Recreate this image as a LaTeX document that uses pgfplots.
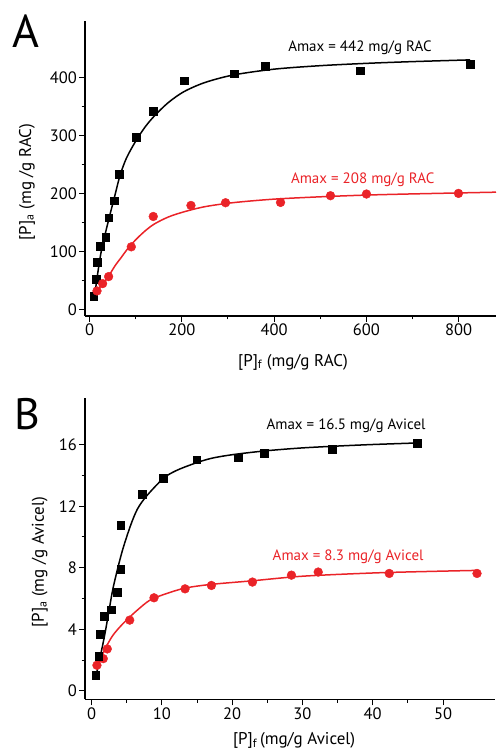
\documentclass[border=0pt]{standalone}
\usepackage{fontspec}
\setmainfont{PT Sans}
\usepackage{pgfplots}
\pgfplotsset{compat=1.18}
\definecolor{fitred}{RGB}{234,35,40}

\pgfplotsset{
  panel/.style={
    scale only axis,
    axis x line*=bottom, axis y line*=left,
    axis line style={line width=1.2pt,-},
    tick align=outside,
    major tick length=6pt, minor tick length=3.5pt,
    every tick/.style={black,line width=1pt},
    minor x tick num=1, minor y tick num=1,
    tick label style={font=\fontsize{16.5}{16.5}\selectfont, inner sep=2pt},
    label style={font=\fontsize{17}{19}\selectfont},
    /pgf/number format/assume math mode=true,
    /pgf/number format/1000 sep={},
    clip=false,
  },
  sq/.style={only marks, mark=square*, mark size=3.9pt, black},
  rc/.style={only marks, mark=*, mark size=4.4pt, fitred, mark options={fill=fitred,draw=fitred}},
  fitk/.style={no marks, smooth, black, line width=1.5pt},
  fitr/.style={no marks, smooth, fitred, line width=1.5pt},
}

\begin{document}
\begin{tikzpicture}
\path[use as bounding box] (0,0) rectangle (496pt,752pt);

% panel A
\begin{axis}[panel,
  at={(85pt,436pt)}, anchor=south west,
  width=411pt, height=295pt,
  xmin=-10, xmax=881, ymin=-10.4, ymax=498,
  xtick={0,200,400,600,800}, ytick={0,100,200,300,400},
  xlabel={[P]\textsubscript{f} (mg/g RAC)},
  ylabel={[P]\textsubscript{a} (mg /g RAC)},
  xlabel style={at={(axis description cs:0.506,-0.156)}, anchor=center},
  ylabel style={at={(axis description cs:-0.141,0.454)}, anchor=center},
]
\addplot[fitk] coordinates {(11,25) (17,60) (25,100) (35,135) (45,167) (55,198) (66,232) (80,262) (100,291) (120,315) (140,334) (170,357) (204,376) (250,392) (312,405) (400,415) (500,421) (600,425) (700,428) (825,431)};
\addplot[fitr] coordinates {(9,26) (20,37) (30,46) (41,58) (55,76) (70,92) (81,104) (100,121) (120,136) (140,148) (170,160) (204,169) (250,178) (312,185) (400,191) (500,195) (600,198) (700,200) (881,203)};
\addplot[sq] coordinates {(8.7,24.2) (13.9,53) (16.7,82.9) (23.2,110) (34.7,125.6) (41.2,158.9) (52.9,188.3) (64.4,234.5) (101.8,297.8) (138,342) (204.5,395) (312.9,407) (380.9,419.7) (587.2,412.3) (825.6,423.3)};
\addplot[rc] coordinates {(16,32.8) (28.2,45.4) (41.2,57.5) (90.4,108.8) (138,161.1) (219.7,180.1) (294.7,184.8) (413.9,185.3) (522.2,196.9) (600.2,199.8) (799.6,200.9)};
\node[font=\fontsize{15}{15}\selectfont, black] at (axis cs:586,452) {Amax = 442 mg/g RAC};
\node[font=\fontsize{15}{15}\selectfont, text=fitred] at (axis cs:592,224) {Amax = 208 mg/g RAC};
\end{axis}

% panel B
\begin{axis}[panel,
  at={(85pt,52.7pt)}, anchor=south west,
  width=410pt, height=301pt,
  xmin=-0.95, xmax=57.4, ymin=-0.54, ymax=19,
  xtick={0,10,20,30,40,50}, ytick={0,4,8,12,16},
  xlabel={[P]\textsubscript{f}\,(mg/g Avicel)},
  ylabel={[P]\textsubscript{a} (mg /g Avicel)},
  xlabel style={at={(axis description cs:0.51,-0.138)}, anchor=center},
  ylabel style={at={(axis description cs:-0.110,0.455)}, anchor=center},
]
\addplot[fitk] coordinates {(0.7,1.15) (1.3,2.4) (1.9,3.75) (2.5,5.3) (3.1,6.8) (4.3,9.0) (5.5,10.7) (6.5,11.8) (7.8,12.65) (10.2,13.8) (12,14.3) (14.5,14.75) (17,15.1) (20.2,15.35) (25,15.6) (30,15.78) (35,15.9) (40,16.0) (46.3,16.1)};
\addplot[fitr] coordinates {(0.7,1.6) (1.3,2.15) (2.1,2.9) (3,3.6) (4,4.15) (5,4.62) (6.5,5.25) (8.3,5.9) (10.5,6.3) (13.3,6.68) (17,6.92) (22.8,7.15) (30,7.45) (40,7.66) (48,7.76) (55,7.83)};
\addplot[rc] coordinates {(0.75,1.67) (1.65,2.1) (2.22,2.73) (5.41,4.6) (8.87,6.05) (13.29,6.63) (17.04,6.85) (22.88,7.07) (28.43,7.52) (32.24,7.72) (42.35,7.63) (54.84,7.63)};
\addplot[sq] coordinates {(0.57,1.04) (1.0,2.28) (1.18,3.71) (1.8,4.83) (2.75,5.27) (3.6,6.4) (4.13,7.9) (4.13,10.78) (7.2,12.75) (10.16,13.8) (14.96,15.02) (20.8,15.15) (24.5,15.41) (34.28,15.71) (46.3,16.1)};
\node[font=\fontsize{15}{15}\selectfont, black] at (axis cs:36.2,17.19) {Amax = 16.5 mg/g Avicel};
\node[font=\fontsize{15}{15}\selectfont, text=fitred] at (axis cs:36.5,8.73) {Amax = 8.3 mg/g Avicel};
\end{axis}

\node[anchor=base west, inner sep=0pt, font=\fontsize{46}{46}\selectfont] at (12pt,704pt) {A};
\node[anchor=base west, inner sep=0pt, font=\fontsize{44}{44}\selectfont] at (14pt,322pt) {B};
\end{tikzpicture}
\end{document}
